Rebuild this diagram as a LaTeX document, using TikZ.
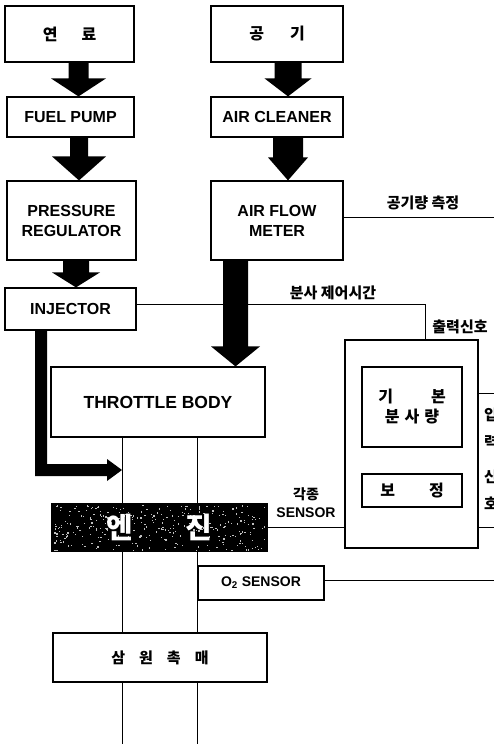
\documentclass[tikz,border=0pt]{standalone}
\usepackage{fontspec}
\setmainfont{Liberation Sans}
\newfontfamily\kr{Noto Sans CJK KR}
\usetikzlibrary{calc}
\tikzset{
  box/.style={draw, line width=1.2pt, rectangle, inner sep=0pt, align=center,
    font=\bfseries\fontsize{16}{20}\selectfont},
  wire/.style={line width=0.9pt},
  lbl/.style={inner sep=0pt, align=center, font=\kr\bfseries\fontsize{15}{17}\selectfont},
  krbox/.style={box, font=\kr\bfseries\fontsize{16}{20}\selectfont},
}
% block arrow: x, from node, to node, half shaft, half head, head length
\newcommand{\barrow}[6]{%
  \fill let \p1=(#2.south), \p2=(#3.north) in
    (#1pt-#4pt,\y1) -- (#1pt+#4pt,\y1) -- (#1pt+#4pt,\y2+#6pt) -- (#1pt+#5pt,\y2+#6pt)
    -- (#1pt,\y2) -- (#1pt-#5pt,\y2+#6pt) -- (#1pt-#4pt,\y2+#6pt) -- cycle;}
% box by corners: style, name, x1, y1, x2, y2, text
\newcommand{\bx}[7]{%
  \node[#1, minimum width={(#5-#3)*1pt}, minimum height={(#6-#4)*1pt}]
    (#2) at ({(#3+#5)/2},{(#4+#6)/2}) {#7};}
\begin{document}
\begin{tikzpicture}[x=1pt,y=-1pt]
\useasboundingbox (0,0) rectangle (494,744);
% left column
\bx{krbox}{fuel}{5}{6}{134}{62}{연\hspace{24pt}료}
\bx{box}{fpump}{7}{97}{134}{137}{FUEL PUMP}
\bx{box}{preg}{7}{181}{136}{260}{PRESSURE\\REGULATOR}
\bx{box}{inj}{5}{288}{136}{330}{INJECTOR}
% air column
\bx{krbox}{air}{211}{6}{343}{62}{공\hspace{26pt}기}
\bx{box}{aclean}{211}{97}{343}{137}{AIR CLEANER}
\bx{box}{afm}{211}{181}{343}{260}{AIR FLOW\\METER}
% centre
\bx{box}{tb}{51}{367}{265}{437}{\fontsize{17.5}{20}\selectfont THROTTLE BODY}
\bx{box}{o2}{198}{566}{324}{600}{\fontsize{14}{16}\selectfont O\textsubscript{2} SENSOR}
\bx{krbox}{cat}{53}{633}{267}{682}{\fontsize{15}{18}\selectfont 삼\hspace{14pt}원\hspace{14pt}촉\hspace{14pt}매}
% engine (dark, speckled)
\bx{box}{eng}{52}{504}{267}{551}{}
\fill[black] (eng.north west) rectangle (eng.south east);
\pgfmathsetseed{11}
\foreach \i in {1,...,320}{
  \fill[white!75!black] ({53+rnd*213},{505+rnd*45}) rectangle ++(1.3,1.3);
}
\node[inner sep=0pt, text=white, font=\kr\bfseries\fontsize{29}{30}\selectfont]
  (engtxt) at (eng.center) {엔\hspace{52pt}진};
% ECU
\bx{box}{ecu}{345}{340}{478}{548}{}
\bx{krbox}{basic}{362}{367}{462}{447}{기\hspace{38pt}본\\분\hspace{5pt}사\hspace{5pt}량}
\bx{krbox}{corr}{362}{474}{462}{507}{보\hspace{34pt}정}
% block arrows
\barrow{78.5}{fuel}{fpump}{10}{27.5}{18}
\barrow{79}{fpump}{preg}{9}{27}{24}
\barrow{76}{preg}{inj}{13}{24}{15}
\barrow{288}{air}{aclean}{13.5}{23.5}{18}
\barrow{288}{aclean}{afm}{15}{20}{23}
% free-end coordinates
\coordinate (r1) at (494,217);
\coordinate (r2) at (494,393);
\coordinate (r3) at (494,527);
\coordinate (r4) at (494,580);
\coordinate (b1) at (122,744);
\coordinate (b2) at (197,744);
\coordinate (cor) at (425,304);
\coordinate (hit) at (122,470);
% wires
\draw[wire] (afm.east |- r1) -- (r1);
\draw[wire] (inj.east |- cor) -- (cor) -- (cor |- ecu.north);
\draw[wire] (ecu.east |- r2) -- (r2);
\draw[wire] (ecu.east |- r3) -- (r3);
\draw[wire] (eng.east |- r3) -- (ecu.west |- r3);
\draw[wire] (o2.east |- r4) -- (r4);
\draw[wire] (tb.south -| b1) -- (eng.north -| b1);
\draw[wire] (tb.south -| b2) -- (eng.north -| b2);
\draw[wire] (eng.south -| b1) -- (cat.north -| b1);
\draw[wire] (eng.south -| b2) -- (cat.north -| b2);
\draw[wire] (cat.south -| b1) -- (b1);
\draw[wire] (cat.south -| b2) -- (b2);
% AFM -> throttle arrow (over the wire)
\barrow{235.5}{afm}{tb}{12.5}{24.5}{20}
% injector L-arrow
\fill let \p1=(inj.south), \p2=(hit) in
  (35,\y1) -- (47,\y1) -- (47,464) -- (107,464) -- (107,459) -- (\x2,\y2)
  -- (107,481) -- (107,476) -- (35,476) -- cycle;
% labels
\node[lbl] (l1) at (423,203) {공기량 측정};
\node[lbl] (l2) at (333,293) {분사 제어시간};
\node[lbl] (l3) at (460,327) {출력신호};
\node[lbl, font=\bfseries\fontsize{14}{18}\selectfont] (l4) at (306,503) {{\kr 각종}\\SENSOR};
\node[lbl] (s1) at (491,415) {입};
\node[lbl] (s2) at (491,442) {력};
\node[lbl] (s3) at (491,477) {신};
\node[lbl] (s4) at (491,503) {호};
\end{tikzpicture}
\end{document}
